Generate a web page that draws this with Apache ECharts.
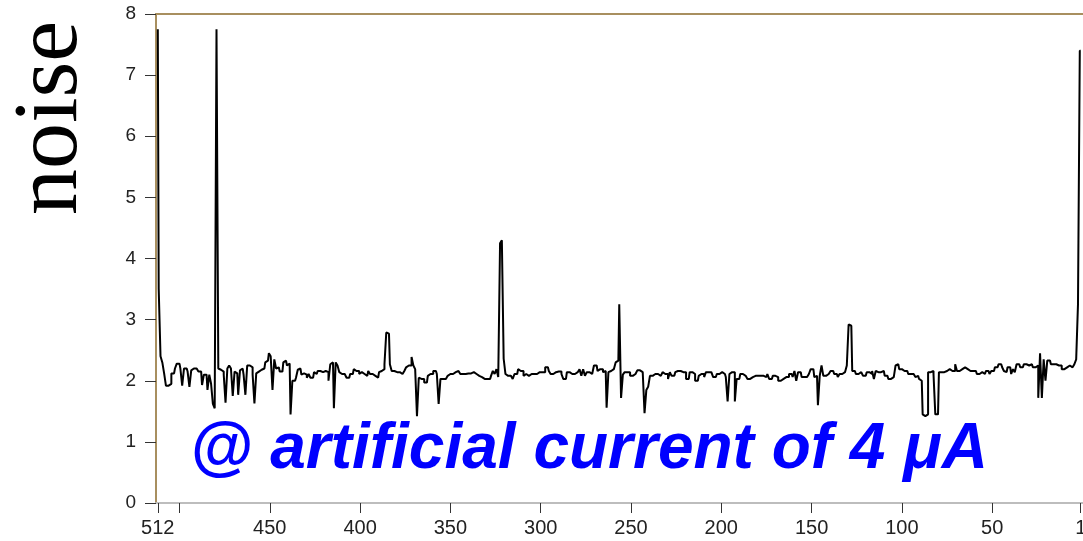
<!DOCTYPE html>
<html>
<head>
<meta charset="utf-8">
<script src="https://cdn.jsdelivr.net/npm/echarts@6/dist/echarts.min.js"></script>
<style>html,body{margin:0;padding:0;background:#fff;}#c{width:1083px;height:541px;}</style>
</head>
<body>
<div id="c"></div>
<script>
// noise per channel, read from channel 512 (left) down to channel 1 (right)
const noiseFrom512 = [
  7.75, 3.5, 2.4, 2.3, 2.12, 1.92, 1.92, 1.95, 2.12, 2.12,
  2.2, 2.28, 2.28, 2.2, 1.92, 2.2, 2.2, 2.15, 1.9, 2.17,
  2.2, 2.2, 2.22, 2.15, 2.15, 1.93, 2.1, 2.1, 1.85, 2.1,
  1.95, 1.62, 1.55, 7.75, 2.2, 2.18, 2.15, 2.1, 1.64, 2.2,
  2.25, 2.2, 1.75, 2.15, 2.12, 1.77, 2.17, 2.2, 2.1, 1.77,
  2.25, 2.25, 2.22, 2.1, 1.63, 2.12, 2.15, 2.18, 2.2, 2.2,
  2.3, 2.33, 2.45, 2.4, 1.85, 2.35, 2.2, 2.22, 2.15, 2.15,
  2.3, 2.33, 2.25, 2.28, 1.45, 2.0, 2.0, 2.05, 2.18, 2.2,
  2.1, 2.12, 2.1, 2.05, 2.11, 2.05, 2.05, 2.14, 2.11, 2.16,
  2.16, 2.14, 2.16, 2.16, 2.14, 2.0, 2.27, 2.3, 1.55, 2.3,
  2.25, 2.14, 2.11, 2.11, 2.08, 2.05, 2.05, 2.11, 2.11, 2.19,
  2.16, 2.16, 2.11, 2.14, 2.11, 2.08, 2.08, 2.16, 2.11, 2.11,
  2.08, 2.08, 2.05, 2.14, 2.16, 2.19, 2.27, 2.79, 2.77, 2.27,
  2.16, 2.16, 2.14, 2.14, 2.14, 2.11, 2.11, 2.16, 2.22, 2.25,
  2.25, 2.39, 2.25, 2.19, 1.42, 2.05, 2.03, 2.03, 1.97, 1.97,
  2.08, 2.11, 2.11, 2.16, 2.16, 2.11, 1.62, 2.03, 2.03, 2.03,
  2.03, 2.08, 2.11, 2.11, 2.14, 2.14, 2.16, 2.16, 2.11, 2.11,
  2.11, 2.11, 2.12, 2.12, 2.14, 2.14, 2.11, 2.11, 2.08, 2.06,
  2.06, 2.03, 2.03, 2.03, 2.03, 2.08, 2.16, 2.11, 2.19, 2.06,
  4.25, 4.3, 2.36, 2.11, 2.08, 2.08, 2.06, 2.03, 2.11, 2.11,
  2.19, 2.16, 2.16, 2.08, 2.11, 2.08, 2.08, 2.11, 2.11, 2.11,
  2.11, 2.14, 2.14, 2.14, 2.14, 2.22, 2.22, 2.16, 2.11, 2.11,
  2.14, 2.14, 2.15, 2.15, 2.11, 2.03, 2.03, 2.14, 2.14, 2.11,
  2.11, 2.11, 2.14, 2.14, 2.19, 2.08, 2.19, 2.08, 2.14, 2.14,
  2.11, 2.14, 2.25, 2.25, 2.16, 2.19, 2.19, 2.14, 2.16, 1.56,
  2.14, 2.16, 2.19, 2.19, 2.3, 2.33, 3.25, 1.72, 2.1, 2.14,
  2.14, 2.14, 2.08, 2.08, 2.11, 2.11, 2.17, 2.17, 2.14, 2.11,
  1.47, 1.85, 1.9, 2.08, 2.08, 2.11, 2.11, 2.11, 2.08, 2.08,
  2.14, 2.11, 2.11, 2.03, 2.14, 2.08, 2.08, 2.14, 2.16, 2.16,
  2.16, 2.14, 2.14, 2.03, 2.03, 2.14, 2.14, 2.11, 2.0, 2.0,
  2.08, 2.11, 2.11, 2.06, 2.14, 2.14, 2.14, 2.14, 2.06, 2.06,
  2.11, 2.11, 2.14, 2.14, 2.11, 2.06, 1.66, 2.11, 2.14, 2.14,
  1.66, 2.03, 2.03, 2.11, 2.11, 2.08, 2.08, 2.03, 2.03, 2.06,
  2.06, 2.08, 2.08, 2.11, 2.08, 2.08, 2.06, 2.06, 2.11, 2.03,
  2.03, 2.08, 2.08, 2.06, 2.0, 2.0, 2.03, 2.03, 2.06, 2.06,
  2.11, 2.11, 2.06, 2.16, 2.0, 2.14, 2.14, 2.06, 2.06, 2.06,
  2.06, 2.11, 2.19, 2.19, 2.06, 2.08, 1.6, 2.08, 2.25, 2.08,
  2.08, 2.11, 2.11, 2.16, 2.16, 2.11, 2.11, 2.06, 2.11, 2.11,
  2.14, 2.14, 2.25, 2.92, 2.9, 2.16, 2.16, 2.11, 2.11, 2.14,
  2.14, 2.08, 2.08, 2.14, 2.14, 2.11, 2.16, 2.03, 2.16, 2.14,
  2.14, 2.16, 2.16, 2.08, 2.08, 2.03, 2.03, 2.06, 2.06, 2.25,
  2.27, 2.19, 2.19, 2.16, 2.16, 2.16, 2.11, 2.11, 2.11, 2.08,
  2.06, 2.08, 2.03, 2.0, 1.45, 1.42, 1.45, 2.14, 2.14, 2.16,
  2.11, 1.45, 1.45, 2.14, 2.14, 2.14, 2.16, 2.16, 2.19, 2.19,
  2.16, 2.16, 2.27, 2.16, 2.16, 2.19, 2.22, 2.22, 2.19, 2.19,
  2.16, 2.16, 2.16, 2.16, 2.11, 2.11, 2.14, 2.14, 2.11, 2.16,
  2.16, 2.11, 2.16, 2.16, 2.22, 2.22, 2.27, 2.27, 2.22, 2.16,
  2.14, 2.22, 2.22, 2.11, 2.19, 2.14, 2.27, 2.27, 2.22, 2.22,
  2.27, 2.27, 2.25, 2.27, 2.27, 2.22, 2.22, 2.25, 1.72, 2.45,
  1.72, 2.35, 2.0, 2.33, 2.33, 2.27, 2.27, 2.27, 2.25, 2.25,
  2.25, 2.19, 2.19, 2.22, 2.25, 2.25, 2.22, 2.22, 2.27, 2.35,
  3.25, 7.4
];
const firstChannel = 512;
const xTickValues = [512, 500, 450, 400, 350, 300, 250, 200, 150, 100, 50, 1];
const xLabelValues = [512, 450, 400, 350, 300, 250, 200, 150, 100, 50, 1];
const yTickValues = [0, 1, 2, 3, 4, 5, 6, 7, 8];
const yTitle = 'noise';
const note = '@ artificial current of 4 μA';

const seriesData = noiseFrom512.map((v, i) => [firstChannel - i, v]);

const chart = echarts.init(document.getElementById('c'), null, {renderer: 'canvas'});
const gold = '#a88f5f';
chart.setOption({
  animation: false,
  backgroundColor: '#ffffff',
  grid: {left: 156, top: 14, width: 926.5, height: 489, containLabel: false, outerBoundsMode: 'none'},
  xAxis: [{
    type: 'value', inverse: true, min: 0, max: 513, position: 'bottom',
    axisLine: {show: true, onZero: false, lineStyle: {color: '#bdbdbd', width: 2}},
    axisTick: {show: true, customValues: xTickValues, length: 10, lineStyle: {color: '#333', width: 1}},
    axisLabel: {customValues: xLabelValues, color: '#222', fontSize: 20, fontFamily: '"Liberation Sans", Arial, sans-serif', margin: 15, hideOverlap: false},
    splitLine: {show: false}
  }, {
    type: 'value', inverse: true, min: 0, max: 513, position: 'top',
    axisLine: {show: true, onZero: false, lineStyle: {color: gold, width: 2}},
    axisTick: {show: false}, axisLabel: {show: false}, splitLine: {show: false}
  }],
  yAxis: {
    type: 'value', min: 0, max: 8, interval: 1, position: 'left',
    axisLine: {show: true, onZero: false, lineStyle: {color: gold, width: 2}},
    axisTick: {show: true, length: 11, lineStyle: {color: '#333', width: 1}},
    axisLabel: {color: '#222', fontSize: 19, fontFamily: '"Liberation Sans", Arial, sans-serif', margin: 20,
      formatter: v => yTickValues.includes(v) ? String(v) : ''},
    splitLine: {show: false}
  },
  series: [{
    type: 'line', xAxisIndex: 0, yAxisIndex: 0, step: 'middle', showSymbol: false, symbol: 'none',
    data: seriesData, lineStyle: {color: '#000', width: 2}, clip: true
  }],
  graphic: [
    {type: 'text', x: 52, y: 118, rotation: Math.PI / 2,
     style: {text: yTitle, font: '92px "Liberation Serif", "Times New Roman", serif', fill: '#000', align: 'center', verticalAlign: 'middle'}},
    {type: 'text', x: 589, y: 482,
     style: {text: note, font: 'italic bold 64px "Liberation Sans", Arial, sans-serif', fill: '#0000ff', align: 'center', verticalAlign: 'bottom'}}
  ]
});
</script>
</body>
</html>
